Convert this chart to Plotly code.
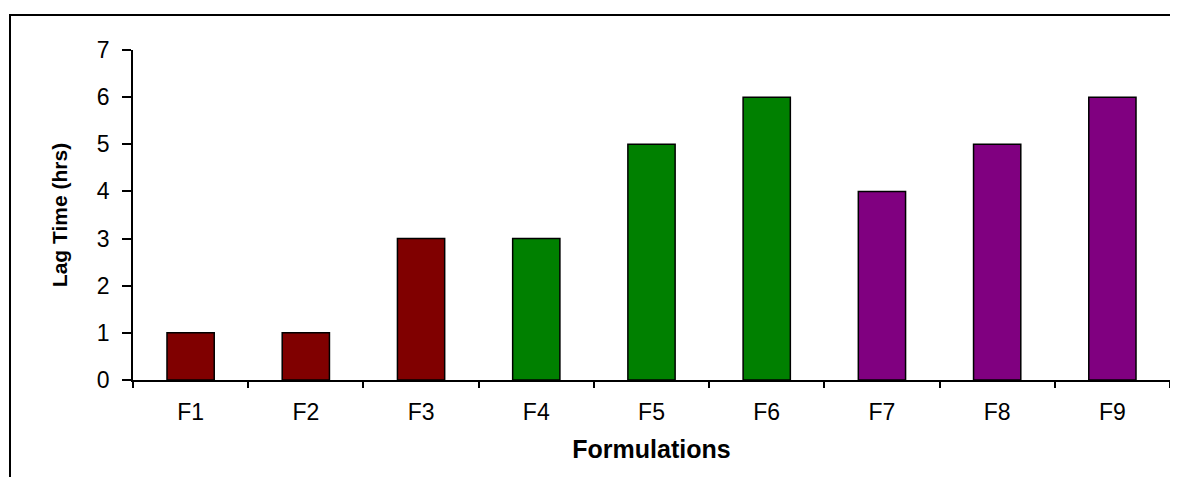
import plotly.graph_objects as go

categories = ["F1", "F2", "F3", "F4", "F5", "F6", "F7", "F8", "F9"]
lag_time_hrs = [1, 1, 3, 3, 5, 6, 4, 5, 6]
bar_colors = ["#800000", "#800000", "#800000",
              "#008000", "#008000", "#008000",
              "#800080", "#800080", "#800080"]
y_ticks = [0, 1, 2, 3, 4, 5, 6, 7]

FONT = "Liberation Sans, Arial, sans-serif"

fig = go.Figure(
    go.Bar(
        x=categories,
        y=lag_time_hrs,
        marker=dict(color=bar_colors, line=dict(color="black", width=1.5)),
        width=0.41,
    )
)

# page body has an 8px offset; figure coords = page coords - 8
OFF = 8
W, H = 1178 - OFF, 477 - OFF
L, R, T, B = 133 - OFF, 8, 50 - OFF, 477 - 380
pw = W - L - R
ph = H - T - B

def px_x(p):
    return (p - OFF - L) / pw

def px_y(p):
    return (H - B - (p - OFF)) / ph

fig.update_layout(
    width=W, height=H,
    margin=dict(l=L, r=R, t=T, b=B),
    paper_bgcolor="white", plot_bgcolor="white",
    showlegend=False,
    font=dict(family=FONT, color="black"),
    xaxis=dict(
        type="category",
        showline=True, linecolor="black", linewidth=1.5,
        ticks="outside", tickson="boundaries", ticklen=6, tickwidth=1.5, tickcolor="black",
        tickfont=dict(size=23, family=FONT),
        ticklabelstandoff=11,
        showgrid=False, zeroline=False,
        title=dict(text="<b>Formulations</b>", font=dict(size=25, family=FONT), standoff=16),
    ),
    yaxis=dict(
        range=[0, 7], tickvals=y_ticks,
        showline=True, linecolor="black", linewidth=1.5,
        ticks="outside", ticklen=9, tickwidth=1.5, tickcolor="black",
        tickfont=dict(size=23, family=FONT),
        ticklabelstandoff=8,
        showgrid=False, zeroline=False,
        title=dict(text="<b>Lag Time (hrs)</b>", font=dict(size=21, family=FONT), standoff=24),
    ),
    shapes=[
        dict(type="rect", xref="paper", yref="paper",
             x0=px_x(10), x1=px_x(1190), y0=px_y(490), y1=px_y(15),
             line=dict(color="black", width=2), fillcolor="rgba(0,0,0,0)", layer="below"),
    ],
)

fig.write_html("out.html")
